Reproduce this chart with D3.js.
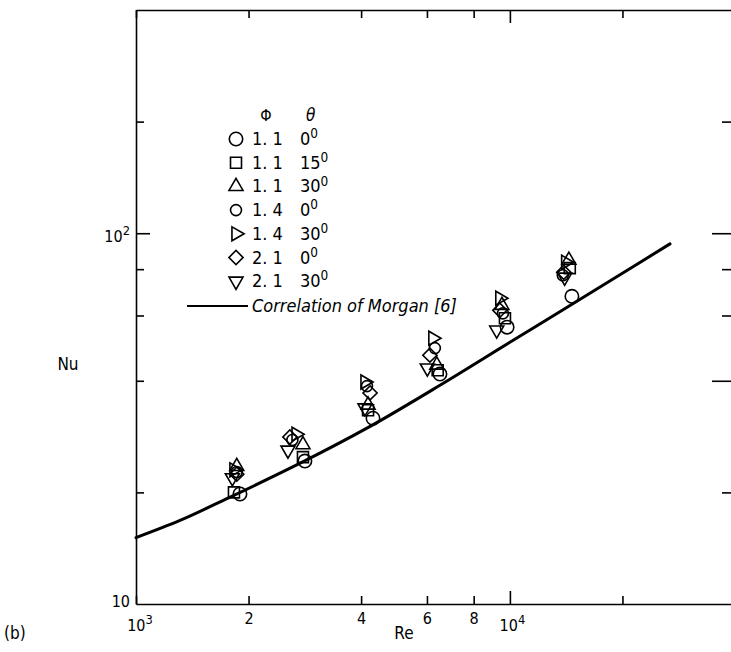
<!DOCTYPE html>
<html>
<head>
<meta charset="utf-8">
<script src="https://cdn.jsdelivr.net/npm/d3@7"></script>
<style>
  body { margin: 0; background: #fff; }
  svg { display: block; }
  text { font-family: "Liberation Sans Narrow", "DejaVu Sans Condensed", sans-serif; fill: #000; }
  .axis path, .axis line { stroke: #000; stroke-width: 1.6; }
</style>
</head>
<body>
<div id="chart"></div>
<script>
// Dados (Nu x Re, escala log-log)
const phiLabels = ["1. 1", "1. 1", "1. 1", "1. 4", "1. 4", "2. 1", "2. 1"];
const thetaLabels = ["0", "15", "30", "0", "30", "0", "30"];

const reS1 = [1897, 2830, 4304, 6500, 9830, 14650];
const nuS1 = [19.8, 24.3, 31.7, 41.7, 55.8, 67.6];
const reS2 = [1828, 2796, 4175, 6410, 9700, 14460];
const nuS2 = [20.0, 24.9, 33.3, 42.7, 59.0, 80.5];
const reS3 = [1860, 2796, 4175, 6377, 9520, 14380];
const nuS3 = [23.5, 26.9, 34.4, 44.1, 63.9, 84.6];
const reS4 = [1860, 2620, 4147, 6300, 9580, 13850];
const nuS4 = [22.7, 27.7, 38.7, 49.0, 60.8, 77.0];
const reS5 = [1828, 2680, 4097, 6223, 9400, 14100];
const nuS5 = [23.0, 28.7, 39.7, 52.1, 66.8, 83.5];
const reS6 = [1860, 2580, 4227, 6110, 9400, 13930];
const nuS6 = [22.4, 28.2, 37.1, 46.9, 62.0, 78.5];
const reS7 = [1810, 2550, 4097, 6014, 9220, 14010];
const nuS7 = [21.9, 26.0, 33.8, 43.3, 54.8, 76.1];

// Correlação de Morgan [6]
const reMorgan = [1000, 1311, 1762, 2800, 4146, 6500, 10000, 13600, 22270, 26800];
const nuMorgan = [15.1, 16.8, 19.3, 24.2, 29.8, 38.9, 50.8, 61.4, 83.4, 93.6];

const xTicks = [1000, 2000, 4000, 6000, 8000, 10000, 20000];
const xTickLabels = ["10|3", "2", "4", "6", "8", "10|4", ""];
const yTicks = [10, 20, 40, 60, 80, 100, 200];
const yTickLabels = ["10", "", "", "", "", "10|2", ""];

const seriesRe = [reS1, reS2, reS3, reS4, reS5, reS6, reS7];
const seriesNu = [nuS1, nuS2, nuS3, nuS4, nuS5, nuS6, nuS7];

const margin = { top: 10, right: 0, bottom: 48, left: 136 };
const width = 599;
const height = 594;

const svg = d3.select("#chart")
  .append("svg")
    .attr("width", 731)
    .attr("height", 652);

const g = svg.append("g")
  .attr("transform", `translate(${margin.left},${margin.top})`);

const x = d3.scaleLog().domain([1000, 40000]).range([0, width]);
const y = d3.scaleLog().domain([10, 400]).range([height, 0]);

// Desenha um rótulo tipo "10|3" como 10 com expoente
function rotulo(sel, s) {
  const [base, exp] = s.split("|");
  sel.text(base);
  if (exp) {
    sel.append("tspan")
      .attr("dy", "-0.55em")
      .style("font-size", "0.8em")
      .text(exp);
  }
}

// Eixos (marcas para dentro)
const longX = d => d === 10000;
const eixoBaixo = g.append("g")
  .attr("class", "axis")
  .attr("transform", `translate(0,${height})`)
  .call(d3.axisBottom(x).tickValues(xTicks).tickSizeOuter(0).tickFormat(""));
eixoBaixo.selectAll(".tick line").attr("y2", d => longX(d) ? -13 : -8);
eixoBaixo.selectAll(".tick text").remove();
eixoBaixo.selectAll(".tick").filter(d => d !== 1000)
  .append("text")
  .attr("text-anchor", "middle")
  .attr("y", d => xTickLabels[xTicks.indexOf(d)].includes("|") ? 27 : 20)
  .attr("x", d => xTickLabels[xTicks.indexOf(d)].includes("|") ? 2 : 0)
  .style("font-size", "16px")
  .each(function(d) { rotulo(d3.select(this), xTickLabels[xTicks.indexOf(d)]); });
// 10^3 no canto
eixoBaixo.append("text")
  .attr("x", 4)
  .attr("y", 27)
  .attr("text-anchor", "middle")
  .style("font-size", "16px")
  .call(rotulo, xTickLabels[0]);

const eixoTopo = g.append("g")
  .attr("class", "axis")
  .call(d3.axisTop(x).tickValues(xTicks).tickSizeOuter(0).tickFormat(""));
eixoTopo.selectAll(".tick line").attr("y2", d => longX(d) ? 13 : 8);

const eixoEsq = g.append("g")
  .attr("class", "axis")
  .call(d3.axisLeft(y).tickValues(yTicks).tickSizeOuter(0).tickFormat(""));
eixoEsq.selectAll(".tick line").attr("x2", d => d === 100 ? 14 : (d === 10 ? 0 : 8));
eixoEsq.selectAll(".tick")
  .append("text")
  .attr("x", -6)
  .attr("y", d => d === 100 ? 8 : 2)
  .attr("text-anchor", "end")
  .style("font-size", "16px")
  .each(function(d) { rotulo(d3.select(this), yTickLabels[yTicks.indexOf(d)]); });

const eixoDir = g.append("g")
  .attr("class", "axis")
  .attr("transform", `translate(${width},0)`)
  .call(d3.axisRight(y).tickValues(yTicks).tickSizeOuter(0).tickFormat(""));
eixoDir.selectAll(".tick line").attr("x2", d => (d === 100 || d === 40) ? -23 : (d === 10 ? 0 : -13));

// Curva de Morgan
const morgan = reMorgan.map((r, i) => ({ re: r, nu: nuMorgan[i] }));
g.append("path")
  .datum(morgan)
  .attr("fill", "none")
  .attr("stroke", "#000")
  .attr("stroke-width", 3)
  .attr("stroke-linecap", "round")
  .attr("d", d3.line()
    .x(d => x(d.re))
    .y(d => y(d.nu))
    .curve(d3.curveMonotoneX));

// Símbolos de cada série
const simbolos = [
  { type: d3.symbolCircle, size: 141, rot: 0 },
  { type: d3.symbolSquare, size: 121, rot: 0 },
  { type: d3.symbolTriangle, size: 85, rot: 0 },
  { type: d3.symbolCircle, size: 95, rot: 0 },
  { type: d3.symbolTriangle, size: 85, rot: 90 },
  { type: d3.symbolSquare, size: 100, rot: 45 },
  { type: d3.symbolTriangle, size: 85, rot: 180 }
];

seriesRe.forEach((res, s) => {
  const pts = res.map((r, i) => ({ re: r, nu: seriesNu[s][i] }));
  g.selectAll(`.s${s}`)
    .data(pts)
    .join("path")
      .attr("class", `s${s}`)
      .attr("d", d3.symbol().type(simbolos[s].type).size(simbolos[s].size))
      .attr("transform", d => `translate(${x(d.re)},${y(d.nu)}) rotate(${simbolos[s].rot})`)
      .attr("fill", "none")
      .attr("stroke", "#000")
      .attr("stroke-width", 1.6);
});

// Legenda
const legX = 236 - margin.left;
const legY0 = 139 - margin.top;
const legStep = 23.7;

g.append("text")
  .attr("x", legX + 30)
  .attr("y", legY0 - legStep + 6)
  .attr("text-anchor", "middle")
  .style("font-size", "16px")
  .text("Φ");
g.append("text")
  .attr("x", legX + 70)
  .attr("y", legY0 - legStep + 6)
  .style("font-size", "17px")
  .style("font-style", "italic")
  .text("θ");

const leg = g.selectAll(".legenda")
  .data(d3.range(phiLabels.length))
  .join("g")
    .attr("class", "legenda")
    .attr("transform", i => `translate(${legX},${legY0 + i * legStep})`);

leg.append("path")
  .attr("d", i => d3.symbol().type(simbolos[i].type).size(simbolos[i].size)())
  .attr("transform", i => `rotate(${simbolos[i].rot})`)
  .attr("fill", "none")
  .attr("stroke", "#000")
  .attr("stroke-width", 1.6);

leg.append("text")
  .attr("x", 16)
  .attr("y", 6)
  .style("font-size", "18px")
  .text(i => phiLabels[i]);

leg.append("text")
  .attr("x", 64)
  .attr("y", 6)
  .style("font-size", "18px")
  .each(function(i) {
    d3.select(this).text(thetaLabels[i])
      .append("tspan")
        .attr("dy", "-0.5em")
        .style("font-size", "0.75em")
        .text("0");
  });

const corrY = 306 - margin.top;
g.append("line")
  .attr("x1", 187 - margin.left)
  .attr("x2", 248 - margin.left)
  .attr("y1", corrY)
  .attr("y2", corrY)
  .attr("stroke", "#000")
  .attr("stroke-width", 1.8);
g.append("text")
  .attr("x", 252 - margin.left)
  .attr("y", corrY + 6)
  .style("font-size", "18px")
  .style("font-style", "italic")
  .text("Correlation of Morgan [6]");

// Títulos dos eixos
svg.append("text")
  .attr("x", 68)
  .attr("y", 370)
  .attr("text-anchor", "middle")
  .style("font-size", "17px")
  .text("Nu");
svg.append("text")
  .attr("x", 404)
  .attr("y", 639)
  .attr("text-anchor", "middle")
  .style("font-size", "17px")
  .text("Re");
svg.append("text")
  .attr("x", 4)
  .attr("y", 639)
  .style("font-size", "17px")
  .text("(b)");
</script>
</body>
</html>
